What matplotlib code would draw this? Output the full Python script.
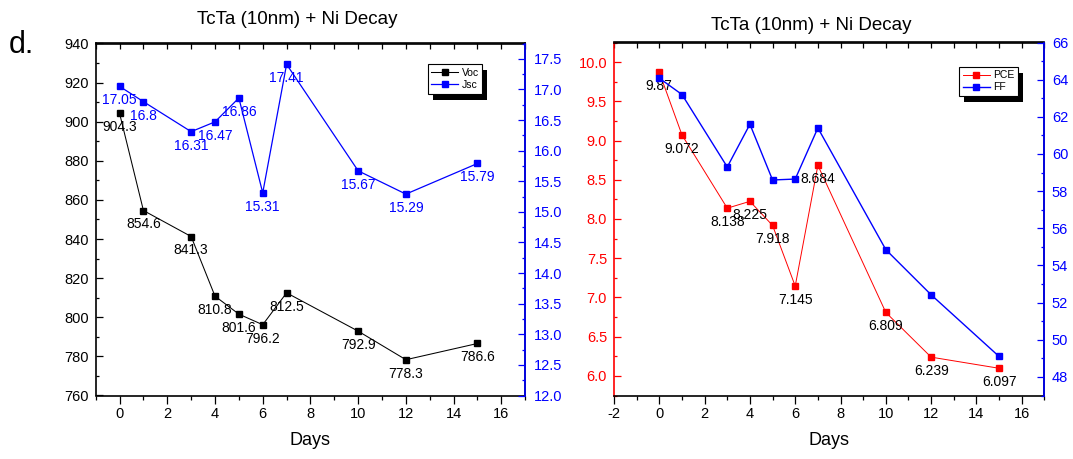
import matplotlib
matplotlib.use("Agg")
import matplotlib.pyplot as plt
from matplotlib.ticker import MultipleLocator, FormatStrFormatter
from matplotlib.patches import Rectangle
from matplotlib.transforms import IdentityTransform

plt.rcParams['font.family'] = ['Liberation Sans', 'DejaVu Sans']
plt.rcParams['axes.unicode_minus'] = False

# Decay measurements of the TcTa (10nm) + Ni device
days = [0, 1, 3, 4, 5, 6, 7, 10, 12, 15]
voc = [904.3, 854.6, 841.3, 810.8, 801.6, 796.2, 812.5, 792.9, 778.3, 786.6]
jsc = [17.05, 16.8, 16.31, 16.47, 16.86, 15.31, 17.41, 15.67, 15.29, 15.79]
pce = [9.87, 9.072, 8.138, 8.225, 7.918, 7.145, 8.684, 6.809, 6.239, 6.097]
ff = [64.08, 63.2, 59.3, 61.6, 58.6, 58.65, 61.4, 54.85, 52.42, 49.1]

title = "TcTa (10nm) + Ni Decay"
BLUE = "#0000FF"
RED = "#FF0000"
TICK_FS = 10.5

W, H = 1073, 459
fig = plt.figure(figsize=(W / 100, H / 100), dpi=100)


def frac(x0, y0, x1, y1):
    return [x0 / W, 1 - y1 / H, (x1 - x0) / W, (y1 - y0) / H]


ax_l = fig.add_axes(frac(95.7, 43.5, 525.2, 395.5))
ax_r = fig.add_axes(frac(614, 42.5, 1044.4, 395.5))


def style_x(ax, lo, hi, first):
    ax.set_xlim(lo, hi)
    ax.xaxis.set_minor_locator(MultipleLocator(1))
    ax.set_xticks([t for t in range(first, 17, 2)])
    ax.tick_params(axis='x', which='major', direction='out', length=5.5,
                   width=0.9, labelsize=TICK_FS, pad=3)
    ax.tick_params(axis='x', which='minor', direction='out', length=3,
                   width=0.9)
    ax.set_xlabel("Days", fontsize=13, labelpad=8)
    top = ax.secondary_xaxis('top')
    top.xaxis.set_major_locator(MultipleLocator(2))
    top.xaxis.set_minor_locator(MultipleLocator(1))
    top.tick_params(axis='x', which='both', direction='in', length=4.5,
                    width=0.9, labeltop=False)
    top.spines['top'].set_linewidth(1.2)


def style_y(ax, side, color, major, minor, fmt, pad):
    ax.yaxis.set_major_locator(MultipleLocator(major))
    ax.yaxis.set_minor_locator(MultipleLocator(minor))
    if fmt:
        ax.yaxis.set_major_formatter(FormatStrFormatter(fmt))
    ax.tick_params(axis='y', which='major', direction='in', length=5,
                   width=0.9, labelsize=TICK_FS, colors=color, pad=pad)
    ax.tick_params(axis='y', which='minor', direction='in', length=2.5,
                   width=0.9, colors=color)
    ax.spines[side].set_color(color)
    ax.spines[side].set_linewidth(1.2)


def label_points(ax, xs, ys, color):
    for x, y in zip(xs, ys):
        ax.annotate(f"{y:g}", (x, y), xytext=(0, -10),
                    textcoords='offset points', ha='center', va='center',
                    fontsize=10, color=color, zorder=6)


def legend_with_shadow(ax, handles, labels, anchor):
    leg = ax.legend(handles, labels, loc='upper right', bbox_to_anchor=anchor,
                    fontsize=7.5, frameon=True, fancybox=False,
                    framealpha=1, edgecolor='black', borderpad=0.35,
                    labelspacing=0.2, handlelength=2.6, handletextpad=0.3,
                    borderaxespad=0, numpoints=1)
    leg.get_frame().set_linewidth(0.8)
    leg.set_zorder(10)
    return leg


# ---- left panel: Voc / Jsc ----
for s in ['left', 'top', 'bottom', 'right']:
    ax_l.spines[s].set_linewidth(1.2)
ax_l.set_ylim(760, 940)
style_x(ax_l, -1, 17, 0)
style_y(ax_l, 'left', 'black', 20, 10, None, 5.0)
h1, = ax_l.plot(days, voc, color='black', lw=0.75, marker='s', ms=4.8,
                mec='black', mfc='black', label='Voc')
label_points(ax_l, days, voc, 'black')

ax_j = ax_l.twinx()
for s in ['left', 'top', 'bottom']:
    ax_j.spines[s].set_visible(False)
ax_j.set_ylim(12.0, 17.75)
style_y(ax_j, 'right', BLUE, 0.5, 0.25, '%.1f', 6.5)
h2, = ax_j.plot(days, jsc, color=BLUE, lw=0.9, marker='s', ms=4.8,
                mec=BLUE, mfc=BLUE, label='Jsc')
label_points(ax_j, days, jsc, BLUE)
leg_l = legend_with_shadow(ax_j, [h1, h2], ['Voc', 'Jsc'], (0.9, 0.941))

# ---- right panel: PCE / FF ----
for s in ['left', 'top', 'bottom', 'right']:
    ax_r.spines[s].set_linewidth(1.2)
ax_r.set_ylim(5.75, 10.25)
style_x(ax_r, -2, 17, -2)
style_y(ax_r, 'left', RED, 0.5, 0.25, '%.1f', 5.0)
h3, = ax_r.plot(days, pce, color=RED, lw=0.7, marker='s', ms=4.8,
                mec=RED, mfc=RED, label='PCE')
label_points(ax_r, days, pce, 'black')

ax_f = ax_r.twinx()
for s in ['left', 'top', 'bottom']:
    ax_f.spines[s].set_visible(False)
ax_f.set_ylim(47, 66)
style_y(ax_f, 'right', BLUE, 2, 1, None, 5.3)
h4, = ax_f.plot(days, ff, color=BLUE, lw=1.0, marker='s', ms=4.8,
                mec=BLUE, mfc=BLUE, label='FF')
leg_r = legend_with_shadow(ax_f, [h3, h4], ['PCE', 'FF'], (0.938, 0.932))

# titles and panel letter
fig.text(297.5 / W, 1 - 19 / H, title, ha='center', va='center', fontsize=13.5)
fig.text(811.6 / W, 1 - 25 / H, title, ha='center', va='center', fontsize=13.5)
fig.text(8.6 / W, 1 - 53.4 / H, "d.", ha='left', va='baseline', fontsize=22)

# solid black drop shadows behind the legend boxes
fig.canvas.draw()
renderer = fig.canvas.get_renderer()
for leg, host in [(leg_l, ax_l), (leg_r, ax_r)]:
    bb = leg.get_window_extent(renderer)
    shadow = Rectangle((bb.x0 + 5, bb.y0 - 6), bb.width, bb.height,
                       transform=IdentityTransform(), facecolor='black',
                       edgecolor='none', clip_on=False, zorder=9)
    host.add_artist(shadow)

fig.savefig("out.png", dpi=100)
